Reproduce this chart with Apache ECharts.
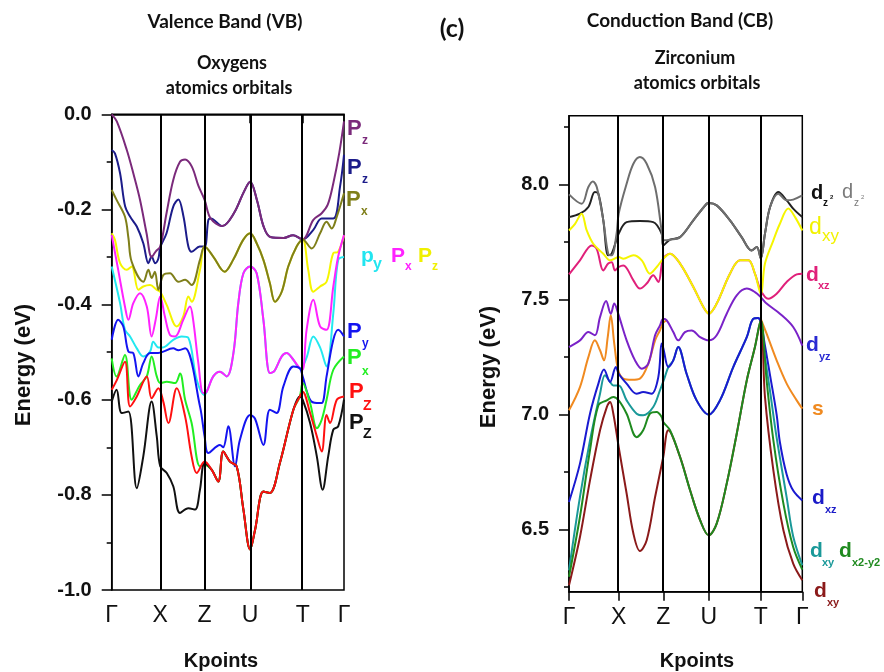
<!DOCTYPE html>
<html>
<head>
<meta charset="utf-8">
<script src="https://cdn.jsdelivr.net/npm/echarts@6/dist/echarts.min.js"></script>
<style>
  html, body { margin: 0; padding: 0; background: #fff; }
  #chart { width: 884px; height: 672px; }
</style>
</head>
<body>
<div id="chart"></div>
<script>
// k-path positions of the high-symmetry points (fraction of the path)
var kNames = ['Γ', 'X', 'Z', 'U', 'T', 'Γ'];
var kTicksVB = [0, 0.209, 0.400, 0.596, 0.822, 1];
var kTicksCB = [0, 0.213, 0.404, 0.599, 0.822, 1];
var cbMajor = [6.5, 7.0, 7.5, 8.0];
var cbMinor = [6.25, 6.75, 7.25, 7.75, 8.25];

// ---- valence band, oxygen p orbitals  [k, E(eV)]
var vbPzPurple = [[0,0],[0.022,-0.015],[0.065,-0.075],[0.093,-0.124],[0.122,-0.18],[0.15,-0.25],[0.172,-0.30],[0.19,-0.288],[0.209,-0.278],[0.236,-0.208],[0.265,-0.138],[0.294,-0.10],[0.316,-0.095],[0.345,-0.11],[0.373,-0.15],[0.400,-0.18],[0.426,-0.219],[0.476,-0.235],[0.526,-0.208],[0.569,-0.163],[0.596,-0.142],[0.625,-0.18],[0.654,-0.236],[0.683,-0.258],[0.74,-0.26],[0.781,-0.254],[0.822,-0.263],[0.868,-0.222],[0.904,-0.208],[0.93,-0.19],[0.954,-0.145],[0.98,-0.08],[1,-0.015]];
var vbPzNavy = [[0,-0.075],[0.014,-0.082],[0.036,-0.124],[0.058,-0.194],[0.079,-0.215],[0.108,-0.236],[0.136,-0.271],[0.158,-0.313],[0.172,-0.299],[0.187,-0.313],[0.201,-0.303],[0.209,-0.28],[0.236,-0.25],[0.265,-0.194],[0.287,-0.179],[0.309,-0.215],[0.33,-0.278],[0.344,-0.289],[0.379,-0.278],[0.400,-0.278],[0.416,-0.222],[0.426,-0.219],[0.476,-0.235],[0.526,-0.208],[0.569,-0.163],[0.596,-0.142],[0.625,-0.18],[0.654,-0.236],[0.683,-0.258],[0.74,-0.26],[0.781,-0.254],[0.822,-0.263],[0.868,-0.243],[0.904,-0.219],[0.954,-0.219],[0.983,-0.152],[1,-0.085]];
var vbPxOlive = [[0,-0.159],[0.021,-0.18],[0.057,-0.215],[0.072,-0.26],[0.086,-0.31],[0.136,-0.352],[0.158,-0.327],[0.172,-0.344],[0.186,-0.331],[0.201,-0.369],[0.222,-0.338],[0.251,-0.334],[0.287,-0.352],[0.316,-0.348],[0.344,-0.359],[0.38,-0.306],[0.400,-0.278],[0.437,-0.299],[0.486,-0.331],[0.523,-0.306],[0.566,-0.264],[0.596,-0.25],[0.624,-0.271],[0.653,-0.306],[0.681,-0.355],[0.703,-0.394],[0.732,-0.373],[0.76,-0.32],[0.796,-0.278],[0.822,-0.263],[0.861,-0.282],[0.897,-0.25],[0.925,-0.226],[0.947,-0.24],[0.969,-0.215],[1,-0.166]];
var vbPzYellow = [[0,-0.25],[0.014,-0.264],[0.036,-0.313],[0.065,-0.327],[0.086,-0.32],[0.115,-0.369],[0.136,-0.362],[0.165,-0.359],[0.194,-0.369],[0.209,-0.373],[0.237,-0.401],[0.28,-0.446],[0.308,-0.425],[0.33,-0.383],[0.344,-0.394],[0.38,-0.327],[0.400,-0.278],[0.437,-0.299],[0.486,-0.331],[0.523,-0.306],[0.566,-0.264],[0.596,-0.25],[0.624,-0.271],[0.653,-0.306],[0.681,-0.355],[0.703,-0.394],[0.732,-0.373],[0.76,-0.32],[0.796,-0.278],[0.822,-0.263],[0.846,-0.327],[0.868,-0.373],[0.897,-0.362],[0.925,-0.352],[0.954,-0.292],[0.975,-0.289],[1,-0.255]];
var vbPyCyan = [[0,-0.32],[0.036,-0.397],[0.057,-0.453],[0.079,-0.467],[0.108,-0.492],[0.136,-0.509],[0.165,-0.499],[0.179,-0.478],[0.201,-0.49],[0.22,-0.49],[0.265,-0.474],[0.301,-0.467],[0.33,-0.47],[0.366,-0.558],[0.400,-0.59],[0.409,-0.583],[0.437,-0.551],[0.466,-0.541],[0.495,-0.551],[0.524,-0.502],[0.545,-0.397],[0.567,-0.334],[0.596,-0.32],[0.624,-0.334],[0.653,-0.432],[0.681,-0.544],[0.70,-0.54],[0.732,-0.509],[0.753,-0.502],[0.782,-0.516],[0.81,-0.534],[0.822,-0.53],[0.84,-0.51],[0.868,-0.467],[0.897,-0.49],[0.925,-0.53],[0.954,-0.418],[0.975,-0.306],[1,-0.30]];
var vbPxMagenta = [[0,-0.254],[0.028,-0.327],[0.057,-0.404],[0.072,-0.432],[0.093,-0.397],[0.122,-0.376],[0.151,-0.404],[0.172,-0.467],[0.19,-0.43],[0.209,-0.383],[0.229,-0.425],[0.251,-0.464],[0.273,-0.467],[0.308,-0.432],[0.337,-0.404],[0.35,-0.43],[0.373,-0.523],[0.394,-0.586],[0.409,-0.583],[0.437,-0.551],[0.466,-0.541],[0.495,-0.551],[0.524,-0.502],[0.545,-0.397],[0.567,-0.334],[0.596,-0.32],[0.624,-0.334],[0.653,-0.432],[0.681,-0.544],[0.70,-0.54],[0.732,-0.509],[0.753,-0.502],[0.782,-0.516],[0.81,-0.534],[0.822,-0.537],[0.839,-0.453],[0.868,-0.39],[0.897,-0.446],[0.925,-0.453],[0.954,-0.362],[0.975,-0.299],[1,-0.254]];
var vbPyBlue = [[0,-0.474],[0.028,-0.432],[0.05,-0.446],[0.072,-0.499],[0.093,-0.502],[0.115,-0.551],[0.136,-0.523],[0.165,-0.502],[0.20,-0.502],[0.265,-0.492],[0.287,-0.496],[0.316,-0.492],[0.38,-0.614],[0.400,-0.677],[0.416,-0.712],[0.466,-0.695],[0.48,-0.70],[0.502,-0.656],[0.531,-0.74],[0.552,-0.684],[0.596,-0.632],[0.617,-0.64],[0.653,-0.695],[0.681,-0.621],[0.71,-0.628],[0.739,-0.572],[0.782,-0.53],[0.81,-0.534],[0.822,-0.551],[0.854,-0.60],[0.883,-0.607],[0.904,-0.607],[0.925,-0.551],[0.954,-0.474],[0.975,-0.453],[1,-0.467]];
var vbPxGreen = [[0,-0.513],[0.021,-0.551],[0.057,-0.506],[0.086,-0.60],[0.122,-0.569],[0.151,-0.551],[0.172,-0.509],[0.194,-0.551],[0.209,-0.565],[0.237,-0.562],[0.273,-0.565],[0.294,-0.545],[0.316,-0.60],[0.344,-0.649],[0.38,-0.74],[0.400,-0.737],[0.43,-0.747],[0.459,-0.772],[0.48,-0.709],[0.509,-0.73],[0.538,-0.74],[0.567,-0.831],[0.596,-0.915],[0.617,-0.874],[0.653,-0.793],[0.681,-0.796],[0.724,-0.733],[0.782,-0.621],[0.81,-0.593],[0.822,-0.565],[0.854,-0.607],[0.883,-0.66],[0.904,-0.642],[0.925,-0.60],[0.954,-0.537],[1,-0.509]];
var vbPzBlack = [[0,-0.604],[0.021,-0.579],[0.043,-0.628],[0.072,-0.625],[0.108,-0.786],[0.136,-0.719],[0.172,-0.604],[0.194,-0.677],[0.209,-0.74],[0.237,-0.754],[0.265,-0.782],[0.294,-0.838],[0.33,-0.828],[0.359,-0.831],[0.38,-0.789],[0.400,-0.733],[0.43,-0.747],[0.459,-0.772],[0.48,-0.709],[0.509,-0.73],[0.538,-0.74],[0.567,-0.831],[0.596,-0.915],[0.617,-0.874],[0.653,-0.793],[0.681,-0.796],[0.724,-0.733],[0.782,-0.621],[0.81,-0.593],[0.822,-0.60],[0.854,-0.649],[0.883,-0.719],[0.908,-0.789],[0.932,-0.719],[0.954,-0.663],[0.975,-0.656],[1,-0.60]];
var vbPzRed = [[0,-0.579],[0.021,-0.56],[0.057,-0.52],[0.079,-0.614],[0.108,-0.593],[0.151,-0.551],[0.172,-0.597],[0.201,-0.576],[0.222,-0.604],[0.244,-0.649],[0.28,-0.576],[0.316,-0.635],[0.344,-0.719],[0.366,-0.754],[0.400,-0.73],[0.43,-0.747],[0.459,-0.772],[0.48,-0.709],[0.509,-0.73],[0.538,-0.74],[0.567,-0.831],[0.596,-0.915],[0.617,-0.874],[0.653,-0.793],[0.681,-0.796],[0.724,-0.733],[0.782,-0.621],[0.81,-0.593],[0.822,-0.583],[0.854,-0.628],[0.883,-0.677],[0.904,-0.709],[0.925,-0.632],[0.94,-0.649],[0.969,-0.60],[1,-0.593]];

// ---- conduction band, zirconium d / s orbitals  [k, E(eV)]
var cbDz2Black = [[0,7.859],[0.047,7.874],[0.083,7.903],[0.111,7.968],[0.126,7.96],[0.147,7.845],[0.168,7.693],[0.183,7.70],[0.213,7.787],[0.247,7.837],[0.304,7.842],[0.361,7.837],[0.397,7.787],[0.404,7.736],[0.433,7.761],[0.476,7.772],[0.533,7.845],[0.59,7.917],[0.599,7.92],[0.633,7.91],[0.69,7.845],[0.74,7.772],[0.783,7.714],[0.805,7.729],[0.822,7.68],[0.84,7.787],[0.862,7.903],[0.897,7.968],[0.933,7.932],[0.961,7.896],[1,7.859]];
var cbDz2Gray = [[0,7.958],[0.054,7.917],[0.083,7.99],[0.102,8.014],[0.119,7.99],[0.147,7.845],[0.168,7.70],[0.183,7.693],[0.204,7.787],[0.213,7.874],[0.247,8.004],[0.276,8.091],[0.304,8.12],[0.333,8.091],[0.369,7.99],[0.397,7.801],[0.404,7.758],[0.433,7.761],[0.476,7.772],[0.533,7.845],[0.59,7.917],[0.599,7.92],[0.633,7.91],[0.69,7.845],[0.74,7.772],[0.783,7.714],[0.805,7.729],[0.822,7.678],[0.84,7.787],[0.862,7.903],[0.897,7.961],[0.933,7.932],[0.961,7.935],[1,7.953]];
var cbDxzPink = [[0,7.61],[0.047,7.671],[0.098,7.736],[0.119,7.72],[0.147,7.627],[0.168,7.657],[0.183,7.663],[0.197,7.627],[0.213,7.642],[0.233,7.649],[0.276,7.584],[0.304,7.548],[0.333,7.57],[0.361,7.606],[0.383,7.577],[0.404,7.678],[0.433,7.70],[0.476,7.657],[0.533,7.555],[0.576,7.468],[0.599,7.439],[0.633,7.483],[0.69,7.613],[0.733,7.671],[0.769,7.671],[0.797,7.613],[0.822,7.54],[0.854,7.504],[0.89,7.526],[0.933,7.577],[0.976,7.61],[1,7.613]];
var cbDxyYellow = [[0,7.801],[0.026,7.83],[0.054,7.874],[0.076,7.801],[0.104,7.743],[0.147,7.70],[0.176,7.671],[0.213,7.685],[0.233,7.678],[0.276,7.693],[0.312,7.671],[0.347,7.613],[0.376,7.642],[0.404,7.678],[0.433,7.70],[0.476,7.657],[0.533,7.555],[0.576,7.468],[0.599,7.439],[0.633,7.483],[0.69,7.613],[0.733,7.671],[0.769,7.671],[0.797,7.613],[0.822,7.526],[0.84,7.657],[0.876,7.758],[0.904,7.83],[0.94,7.896],[0.969,7.859],[1,7.801]];
var cbDyzPurple = [[0,7.294],[0.047,7.323],[0.083,7.359],[0.111,7.345],[0.133,7.424],[0.159,7.494],[0.179,7.439],[0.194,7.483],[0.211,7.439],[0.247,7.323],[0.283,7.236],[0.312,7.20],[0.34,7.222],[0.369,7.345],[0.39,7.388],[0.404,7.417],[0.419,7.41],[0.447,7.359],[0.468,7.323],[0.497,7.359],[0.526,7.366],[0.562,7.337],[0.599,7.323],[0.633,7.345],[0.676,7.439],[0.719,7.519],[0.762,7.548],[0.797,7.533],[0.822,7.511],[0.847,7.483],[0.904,7.439],[0.961,7.381],[1,7.30]];
var cbSOrange = [[0,7.019],[0.047,7.12],[0.083,7.25],[0.111,7.323],[0.133,7.28],[0.15,7.236],[0.166,7.337],[0.179,7.432],[0.194,7.309],[0.211,7.193],[0.233,7.157],[0.269,7.152],[0.304,7.157],[0.34,7.222],[0.369,7.323],[0.39,7.367],[0.404,7.40],[0.42,7.41],[0.6,null],[0.822,7.417],[0.847,7.352],[0.89,7.236],[0.933,7.135],[0.976,7.062],[1,7.026]];
var cbDxyTeal = [[0,6.323],[0.047,6.642],[0.09,6.888],[0.133,7.091],[0.154,7.171],[0.176,7.142],[0.19,7.127],[0.213,7.127],[0.247,7.062],[0.29,7.004],[0.318,6.997],[0.361,7.033],[0.39,7.106],[0.411,7.164],[0.426,7.207],[0.447,7.236],[0.468,7.294],[0.504,7.178],[0.547,7.062],[0.599,7.0],[0.647,7.062],[0.704,7.207],[0.762,7.337],[0.79,7.417],[0.81,7.42],[0.822,7.40],[0.84,7.25],[0.862,7.10],[0.89,6.90],[0.933,6.64],[0.961,6.47],[1,6.345]];
var cbDxzBlue = [[0,6.62],[0.047,6.787],[0.09,7.004],[0.126,7.135],[0.15,7.196],[0.176,7.142],[0.201,7.207],[0.213,7.178],[0.247,7.135],[0.29,7.091],[0.318,7.098],[0.354,7.091],[0.383,7.164],[0.397,7.309],[0.404,7.29],[0.426,7.207],[0.447,7.236],[0.468,7.294],[0.504,7.178],[0.547,7.062],[0.599,7.0],[0.647,7.062],[0.704,7.207],[0.762,7.337],[0.79,7.417],[0.81,7.42],[0.822,7.40],[0.84,7.30],[0.862,7.17],[0.89,7.00],[0.904,6.88],[0.933,6.74],[0.961,6.67],[1,6.627]];
var cbDxyRed = [[0,6.258],[0.047,6.468],[0.09,6.714],[0.133,6.932],[0.162,7.033],[0.176,7.055],[0.19,7.004],[0.213,6.859],[0.247,6.657],[0.276,6.483],[0.304,6.407],[0.333,6.454],[0.369,6.642],[0.404,6.816],[0.426,6.932],[0.476,6.816],[0.519,6.671],[0.562,6.541],[0.599,6.475],[0.633,6.526],[0.676,6.70],[0.719,6.917],[0.762,7.149],[0.797,7.294],[0.822,7.41],[0.84,7.077],[0.876,6.758],[0.919,6.497],[0.961,6.352],[1,6.28]];
var cbDx2y2Green = [[0,6.295],[0.047,6.556],[0.09,6.845],[0.126,7.041],[0.162,7.062],[0.19,7.077],[0.213,7.062],[0.247,7.004],[0.29,6.902],[0.318,6.932],[0.347,7.004],[0.376,7.012],[0.397,6.99],[0.404,6.968],[0.433,6.932],[0.476,6.816],[0.519,6.671],[0.562,6.541],[0.599,6.475],[0.633,6.526],[0.676,6.70],[0.719,6.917],[0.762,7.149],[0.797,7.294],[0.822,7.41],[0.847,7.149],[0.876,6.888],[0.919,6.613],[0.961,6.424],[1,6.326]];

var chartDom = document.getElementById('chart');
var myChart = echarts.init(chartDom, null, { renderer: 'canvas' });

var AX = 'Liberation Sans, Arial, sans-serif';
var TITLE = 'Lato, Open Sans, sans-serif';

function band(data, color, g) {
  return {
    type: 'line', data: data, xAxisIndex: g, yAxisIndex: g,
    showSymbol: false, symbol: 'none', smooth: 0.35, connectNulls: false,
    lineStyle: { color: color, width: 2 }, silent: true
  };
}

function kLines(ticks) {
  return {
    silent: true, symbol: ['none', 'none'], label: { show: false },
    lineStyle: { color: '#000', width: 2, type: 'solid' },
    data: ticks.slice(1, -1).map(function (k) { return { xAxis: k }; })
  };
}

function kAxis(g, ticks) {
  return {
    type: 'value', gridIndex: g, min: 0, max: 1,
    axisLine: { show: true, lineStyle: { color: '#000', width: 1.5 } },
    axisTick: { show: true, customValues: ticks, length: 9, lineStyle: { color: '#000', width: 1.5 } },
    axisLabel: {
      customValues: ticks, margin: 14, color: '#111',
      fontFamily: AX, fontSize: 23,
      formatter: function (v) { return kNames[ticks.indexOf(v)] || ''; }
    },
    splitLine: { show: false }
  };
}

// text next to the bands
function txt(x, y, s, color, size, weight, font) {
  return {
    type: 'text', x: x, y: y, silent: true,
    style: {
      text: s, fill: color, fontSize: size, fontWeight: weight || 'bold',
      fontFamily: font || AX, align: 'left', verticalAlign: 'middle',
      textAlign: 'left', textVerticalAlign: 'middle'
    }
  };
}
function ctxt(x, y, s, size, font, rot) {
  return {
    type: 'text', x: x, y: y, rotation: rot || 0, silent: true,
    style: {
      text: s, fill: '#111', fontSize: size, fontWeight: 'bold',
      fontFamily: font, align: 'center', verticalAlign: 'middle',
      textAlign: 'center', textVerticalAlign: 'middle'
    }
  };
}

var graphics = [
  ctxt(225, 22, 'Valence Band (VB)', 19, TITLE),
  ctxt(452, 29, '(c)', 25, TITLE),
  ctxt(232, 63, 'Oxygens', 18, TITLE),
  ctxt(229, 88, 'atomics orbitals', 18, TITLE),
  ctxt(680, 21, 'Conduction Band (CB)', 19, TITLE),
  ctxt(695, 58, 'Zirconium', 18, TITLE),
  ctxt(697, 83, 'atomics orbitals', 18, TITLE),
  ctxt(24, 365, 'Energy (eV)', 22, AX, Math.PI / 2),
  ctxt(489, 367, 'Energy (eV)', 22, AX, Math.PI / 2),
  ctxt(221, 661, 'Kpoints', 20, AX),
  ctxt(697, 661, 'Kpoints', 20, AX),
  // VB labels
  txt(347, 129, 'P', '#7b2a7b', 22), txt(362, 141, 'z', '#7b2a7b', 12),
  txt(347, 168, 'P', '#1c1c8a', 22), txt(362, 180, 'z', '#1c1c8a', 12),
  txt(346, 200, 'P', '#7f7f1a', 22), txt(361, 212, 'x', '#7f7f1a', 12),
  txt(361, 256, 'p', '#22e5f0', 21), txt(373, 265, 'y', '#22e5f0', 16),
  txt(391, 256, 'P', '#ff22ff', 21), txt(405, 267, 'x', '#ff22ff', 12),
  txt(418, 256, 'P', '#f0f000', 21), txt(432, 267, 'z', '#f0f000', 12),
  txt(347, 332, 'P', '#1414f0', 22), txt(362, 344, 'y', '#1414f0', 12),
  txt(347, 358, 'P', '#22ee22', 22), txt(362, 372, 'x', '#22ee22', 12),
  txt(349, 392, 'P', '#ff1010', 22), txt(363, 406, 'Z', '#ff1010', 14),
  txt(349, 423, 'P', '#111111', 22), txt(363, 434, 'Z', '#111111', 14),
  // CB labels
  txt(811, 193, 'd', '#111111', 20), txt(823, 203, 'z', '#111111', 10), txt(830, 197, '2', '#111111', 6),
  txt(842, 192, 'd', '#7a7a7a', 20, 'normal'), txt(854, 203, 'z', '#7a7a7a', 10, 'normal'), txt(861, 197, '2', '#7a7a7a', 6, 'normal'),
  txt(809, 228, 'd', '#f2f200', 23, 'normal'), txt(822, 236, 'xy', '#f2f200', 17, 'normal'),
  txt(806, 275, 'd', '#e0207a', 21), txt(818, 286, 'xz', '#e0207a', 11),
  txt(806, 345, 'd', '#2a2ad2', 21), txt(819, 357, 'yz', '#2a2ad2', 11),
  txt(812, 409, 's', '#f08a20', 21),
  txt(812, 498, 'd', '#1a1ac8', 21), txt(825, 510, 'xz', '#1a1ac8', 11),
  txt(810, 551, 'd', '#1a9999', 21), txt(822, 563, 'xy', '#1a9999', 11),
  txt(839, 551, 'd', '#1f8a1f', 21), txt(852, 563, 'x2-y2', '#1f8a1f', 11),
  txt(814, 591, 'd', '#8b1a1a', 21), txt(827, 603, 'xy', '#8b1a1a', 11)
];

var vbSeries = [
  band(vbPzNavy, '#1c1c8a', 0),
  band(vbPzPurple, '#7b2a7b', 0),
  band(vbPzYellow, '#f5f500', 0),
  band(vbPxOlive, '#7f7f1a', 0),
  band(vbPyCyan, '#22e8f0', 0),
  band(vbPxMagenta, '#ff22ff', 0),
  band(vbPyBlue, '#1414f0', 0),
  band(vbPxGreen, '#22ee22', 0),
  band(vbPzBlack, '#111111', 0),
  band(vbPzRed, '#ff1010', 0)
];
vbSeries[0].markLine = kLines(kTicksVB);

var cbSeries = [
  band(cbDz2Black, '#222222', 1),
  band(cbDz2Gray, '#6e6e6e', 1),
  band(cbDxzPink, '#e0207a', 1),
  band(cbDxyYellow, '#f5f500', 1),
  band(cbSOrange, '#f08a20', 1),
  band(cbDyzPurple, '#7a22c8', 1),
  band(cbDxyTeal, '#1a9999', 1),
  band(cbDxzBlue, '#1a1ad0', 1),
  band(cbDxyRed, '#8b1a1a', 1),
  band(cbDx2y2Green, '#1f8a1f', 1)
];
cbSeries[0].markLine = kLines(kTicksCB);

var option = {
  animation: false,
  backgroundColor: '#fff',
  grid: [
    { left: 111.7, top: 114.3, width: 232.3, height: 475.7, show: true, borderColor: '#000', borderWidth: 1.5, backgroundColor: 'transparent' },
    { left: 569, top: 115.7, width: 233.3, height: 476, show: true, borderColor: '#000', borderWidth: 1.5, backgroundColor: 'transparent' }
  ],
  xAxis: [kAxis(0, kTicksVB), kAxis(1, kTicksCB)],
  yAxis: [
    {
      type: 'value', gridIndex: 0, min: -1, max: 0, interval: 0.2,
      axisLine: { show: true, lineStyle: { color: '#000', width: 1.5 } },
      axisTick: { show: true, length: 10, lineStyle: { color: '#000', width: 1.5 } },
      minorTick: { show: true, splitNumber: 2, length: 5, lineStyle: { color: '#000', width: 1.5 } },
      axisLabel: {
        margin: 20, color: '#111', fontFamily: AX, fontSize: 20, fontWeight: 'bold',
        formatter: function (v) { return Math.abs(v) < 1e-9 ? '0.0' : v.toFixed(1); }
      },
      splitLine: { show: false }
    },
    {
      type: 'value', gridIndex: 1, min: 6.23, max: 8.3, position: 'left',
      axisLine: { show: true, lineStyle: { color: '#000', width: 1.5 } },
      axisTick: { show: true, customValues: cbMajor, length: 10, lineStyle: { color: '#000', width: 1.5 } },
      axisLabel: {
        customValues: cbMajor, margin: 20, color: '#111', fontFamily: AX, fontSize: 20, fontWeight: 'bold',
        formatter: function (v) { return v.toFixed(1); }
      },
      splitLine: { show: false }
    },
    {
      type: 'value', gridIndex: 1, min: 6.23, max: 8.3, position: 'left', offset: 0,
      axisLine: { show: false },
      axisTick: { show: true, customValues: cbMinor, length: 5, lineStyle: { color: '#000', width: 1.5 } },
      axisLabel: { show: false },
      splitLine: { show: false }
    }
  ],
  series: vbSeries.concat(cbSeries),
  graphic: graphics
};

option && myChart.setOption(option);
</script>
</body>
</html>
